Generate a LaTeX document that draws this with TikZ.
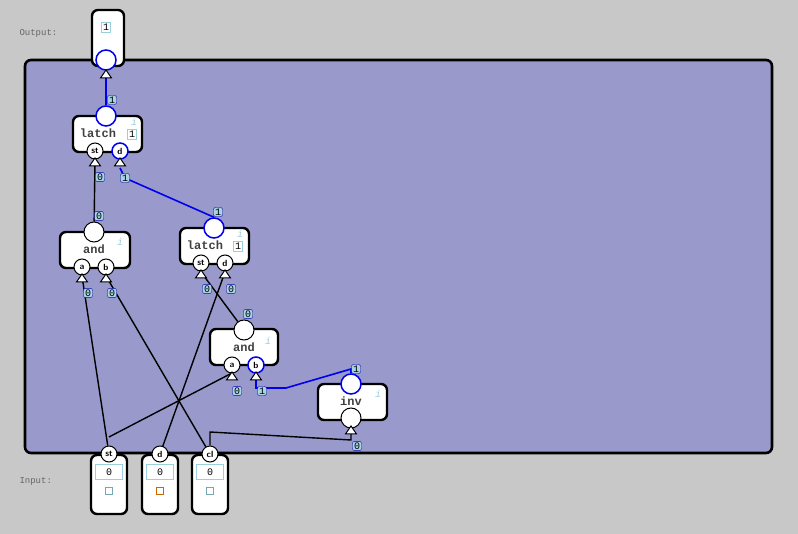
\documentclass[tikz,border=0pt]{standalone}
\usepackage{fontspec}
\setmonofont{Liberation Mono}
\setmainfont{Liberation Sans}
\definecolor{bg}{HTML}{C8C8C8}
\definecolor{panel}{HTML}{9999CC}
\definecolor{lbl}{HTML}{A8D4E4}
\definecolor{wblue}{HTML}{0000EE}
\definecolor{ibox}{HTML}{9ACFE0}
\begin{document}
\begin{tikzpicture}[x=1pt,y=-1pt,
  gate/.style={draw,line width=2.4pt,fill=white,rounded corners=6pt},
  pin/.style={circle,draw,line width=1pt,fill=white,inner sep=0pt,minimum size=16pt,font=\sffamily\bfseries\fontsize{9}{9}\selectfont},
  bpin/.style={pin,draw=wblue,line width=1.5pt,minimum size=20pt},
  bpins/.style={pin,draw=wblue,line width=1.5pt},
  opin/.style={pin,minimum size=20pt},
  lab/.style={draw=wblue!70!black,fill=lbl,rounded corners=2pt,inner sep=1.2pt,minimum width=9pt,font=\ttfamily\fontsize{10}{10}\selectfont},
  vbox/.style={draw=ibox,fill=white,inner sep=1.5pt,font=\ttfamily\fontsize{10}{10}\selectfont},
  gtxt/.style={font=\ttfamily\bfseries\fontsize{12}{12}\selectfont,text=black!75},
  itxt/.style={font=\ttfamily\itshape\fontsize{10}{10}\selectfont,text=ibox},
  wire/.style={line width=1.4pt},
  bwire/.style={line width=1.6pt,draw=wblue},
  tri/.style={draw,fill=white,line width=1pt}]
\useasboundingbox (0,0) rectangle (798,534);
\fill[bg] (0,0) rectangle (798,534);
\draw[line width=2.6pt,fill=panel,rounded corners=6pt] (25,60) rectangle (772,453);
\node[font=\ttfamily\fontsize{9}{9}\selectfont,text=black!60,anchor=west] at (16,33) {Output:};
\node[font=\ttfamily\fontsize{9}{9}\selectfont,text=black!60,anchor=west] at (16,481) {Input:};
\newcommand{\trig}[2]{\draw[tri] (#1,#2) -- ++(-5.5,8) -- ++(11,0) -- cycle;}
% output
\draw[gate] (92,10) rectangle (124,66);
\node[vbox] at (106,27) {1};
\node[bpin] (outp) at (106,60) {};
\coordinate (outt) at (106,70);
% latch1
\draw[gate] (73,116) rectangle (142,152);
\node[gtxt] at (98,133) {latch};
\node[vbox] at (132,134) {1};
\node[itxt] at (134,122) {i};
\node[bpin] (l1o) at (106,116) {};
\node[pin] (l1st) at (95,151) {st};
\node[bpins] (l1d) at (120,151) {d};
% and1
\draw[gate] (60,232) rectangle (130,268);
\node[gtxt] at (94,249) {and};
\node[itxt] at (120,242) {i};
\node[opin] (a1o) at (94,232) {};
\node[pin] (a1a) at (82,267) {a};
\node[pin] (a1b) at (106,267) {b};
% latch2
\draw[gate] (180,228) rectangle (249,264);
\node[gtxt] at (205,245) {latch};
\node[vbox] at (238,246) {1};
\node[itxt] at (240,234) {i};
\node[bpin] (l2o) at (214,228) {};
\node[pin] (l2st) at (201,263) {st};
\node[pin] (l2d) at (225,263) {d};
% and2
\draw[gate] (210,329) rectangle (278,365);
\node[gtxt] at (244,347) {and};
\node[itxt] at (268,341) {i};
\node[opin] (a2o) at (244,330) {};
\node[pin] (a2a) at (232,365) {a};
\node[bpins] (a2b) at (256,365) {b};
% inv
\draw[gate] (318,384) rectangle (387,420);
\node[gtxt] at (351,401) {inv};
\node[itxt] at (378,394) {i};
\node[bpin] (ivi) at (351,384) {};
\node[opin] (ivo) at (351,418) {};
% inputs
\foreach \x/\c in {109/ibox,160/orange,210/ibox}{
  \draw[gate] (\x-18,455) rectangle (\x+18,514);
  \node[vbox,minimum width=27pt,minimum height=15pt] at (\x,472) {0};
  \draw[\c!80!black,line width=0.8pt,fill=white] (\x-3.5,487.5) rectangle (\x+3.5,494.5);
}
\node[pin] (ist) at (109,454) {st};
\node[pin] (id) at (160,454) {d};
\node[pin] (icl) at (210,454) {cl};
% wires
\draw[bwire] (l1o) -- (outt);
\draw[wire] (a1o) -- (95,160);
\draw[bwire] (l2o.north) -- (125,178) -- (120,168);
\draw[wire] (ist) -- (82,276);
\draw[wire] (icl) -- (106,276);
\draw[wire] (a2o) -- (201,272);
\draw[wire] (id) -- (225,272);
\draw[wire] (109,437) -- (232,373);
\draw[bwire] (256,373) -- (256,388) -- (286,388) -- (351,369) -- (ivi.north);
\draw[wire] (icl) -- (210,432) -- (351,440) -- (351,430);
% triangles
\trig{106}{70}\trig{95}{158}\trig{120}{158}
\trig{82}{274}\trig{106}{274}\trig{201}{270}\trig{225}{270}
\trig{232}{372}\trig{256}{372}\trig{351}{426}
% labels
\node[lab] at (112,100) {1};
\node[lab] at (100,177) {0};
\node[lab] at (99,216) {0};
\node[lab] at (125,178) {1};
\node[lab] at (218,212) {1};
\node[lab] at (88,293) {0};
\node[lab] at (112,293) {0};
\node[lab] at (207,289) {0};
\node[lab] at (231,289) {0};
\node[lab] at (248,314) {0};
\node[lab] at (237,391) {0};
\node[lab] at (262,391) {1};
\node[lab] at (356,369) {1};
\node[lab] at (357,446) {0};
\end{tikzpicture}
\end{document}
